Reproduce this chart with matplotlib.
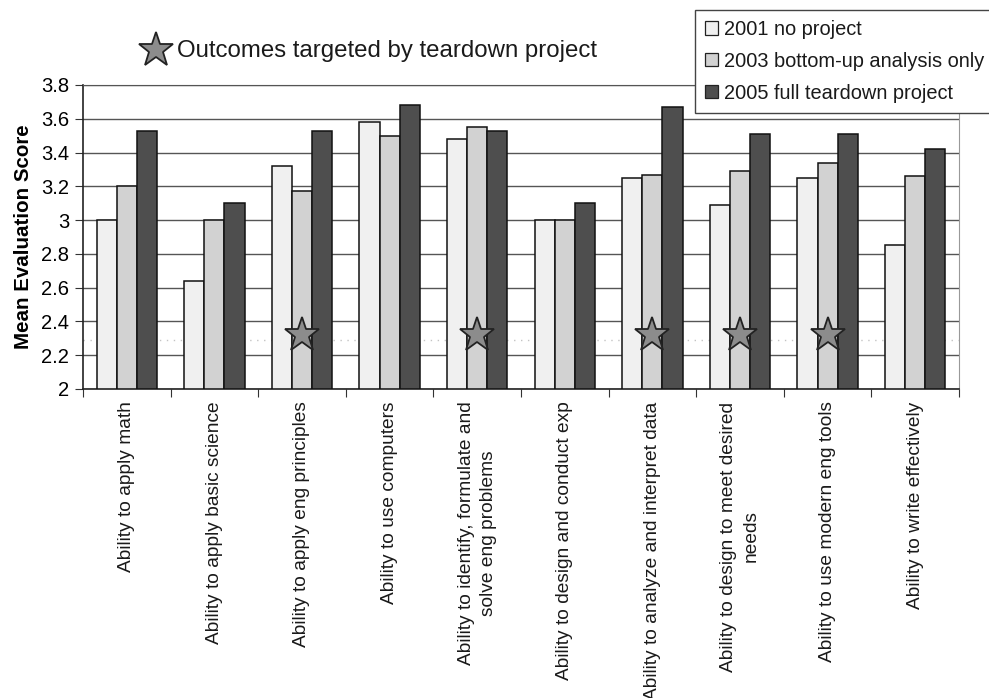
import matplotlib
matplotlib.use('Agg')
import matplotlib.pyplot as plt
from matplotlib.patches import Patch
import numpy as np

plt.rcParams['font.family'] = ['Liberation Sans', 'DejaVu Sans']

outcomes = [
    'Ability to apply math',
    'Ability to apply basic science',
    'Ability to apply eng principles',
    'Ability to use computers',
    'Ability to identify, formulate and\nsolve eng problems',
    'Ability to design and conduct exp',
    'Ability to analyze and interpret data',
    'Ability to design to meet desired\nneeds',
    'Ability to use modern eng tools',
    'Ability to write effectively',
]
series_names = ['2001 no project', '2003 bottom-up analysis only', '2005 full teardown project']
scores_2001 = [3.00, 2.64, 3.32, 3.58, 3.48, 3.00, 3.25, 3.09, 3.25, 2.85]
scores_2003 = [3.20, 3.00, 3.17, 3.50, 3.55, 3.00, 3.27, 3.29, 3.34, 3.26]
scores_2005 = [3.53, 3.10, 3.53, 3.68, 3.53, 3.10, 3.67, 3.51, 3.51, 3.42]
# outcomes targeted by the teardown project (index into outcomes)
targeted = [2, 4, 6, 7, 8]
star_level = 2.32

colors = ['#f0f0f0', '#d2d2d2', '#4e4e4e']

fig = plt.figure(figsize=(9.89, 6.98), dpi=100)
ax = fig.add_axes([83 / 989, 1 - 389 / 698, (959 - 83) / 989, (389 - 85) / 698])

x = np.arange(len(outcomes))
w = 0.23
for k, vals in enumerate([scores_2001, scores_2003, scores_2005]):
    ax.bar(x + (k - 1) * w, np.array(vals) - 2, width=w, bottom=2,
           color=colors[k], edgecolor='#111111', linewidth=1.1, zorder=3)

# faint dotted line behind the stars
ax.axhline(2.29, color='#c4c4c4', linestyle=(0, (1, 4)), linewidth=1, zorder=2)

ax.plot(x[targeted], [star_level] * len(targeted), linestyle='none', marker='*',
        markersize=26, markerfacecolor='#8c8c8c', markeredgecolor='#222222',
        markeredgewidth=1.3, zorder=5)

ax.set_xlim(-0.5, len(outcomes) - 0.5)
ax.set_ylim(2, 3.8)
ax.set_yticks(np.arange(2, 3.81, 0.2))
ax.set_yticklabels(['%g' % round(v, 1) for v in np.arange(2, 3.81, 0.2)], fontsize=14.5)
ax.yaxis.grid(True, color='#555555', linewidth=1.0, zorder=0)
ax.set_axisbelow(True)

ax.set_xticks(np.arange(-0.5, len(outcomes), 1.0))
ax.set_xticklabels([])
ax.set_xticks(x, minor=True)
ax.set_xticklabels(outcomes, minor=True, rotation=90, va='top', ha='center',
                   multialignment='center', fontsize=13.8, color='#1a1a1a',
                   linespacing=1.4)
ax.tick_params(axis='x', which='minor', length=0, pad=9)
ax.tick_params(axis='x', which='major', length=6, direction='out', color='#333333')
ax.tick_params(axis='y', length=6, direction='out', color='#333333', pad=4)

ax.set_ylabel('Mean Evaluation Score', fontsize=14.8, fontweight='bold', labelpad=6)

for side in ['left', 'bottom']:
    ax.spines[side].set_color('#222222')
    ax.spines[side].set_linewidth(1.2)
ax.spines['top'].set_color('#555555')
ax.spines['right'].set_color('#999999')
ax.spines['right'].set_linestyle((0, (1, 1)))

# star key above the plot
fig.lines.append(plt.Line2D([156 / 989], [1 - 50 / 698], transform=fig.transFigure,
                            marker='*', markersize=26, markerfacecolor='#8c8c8c',
                            markeredgecolor='#222222', markeredgewidth=1.3))
fig.text(177 / 989, 1 - 51 / 698, 'Outcomes targeted by teardown project',
         fontsize=17.3, va='center', ha='left', color='#1a1a1a')

handles = [Patch(facecolor=c, edgecolor='#222222', linewidth=0.9) for c in colors]
leg = fig.legend(handles, series_names, loc='upper left',
                 bbox_to_anchor=(695 / 989, 1 - 10 / 698), fontsize=14.4,
                 frameon=True, fancybox=False, framealpha=1, edgecolor='#444444',
                 handlelength=0.65, handleheight=0.65, handletextpad=0.3,
                 labelspacing=0.64, borderpad=0.5, borderaxespad=0)
leg.get_frame().set_linewidth(1.0)
leg.set_zorder(10)
for t in leg.get_texts():
    t.set_color('#1a1a1a')

fig.savefig('out.png', dpi=100)
